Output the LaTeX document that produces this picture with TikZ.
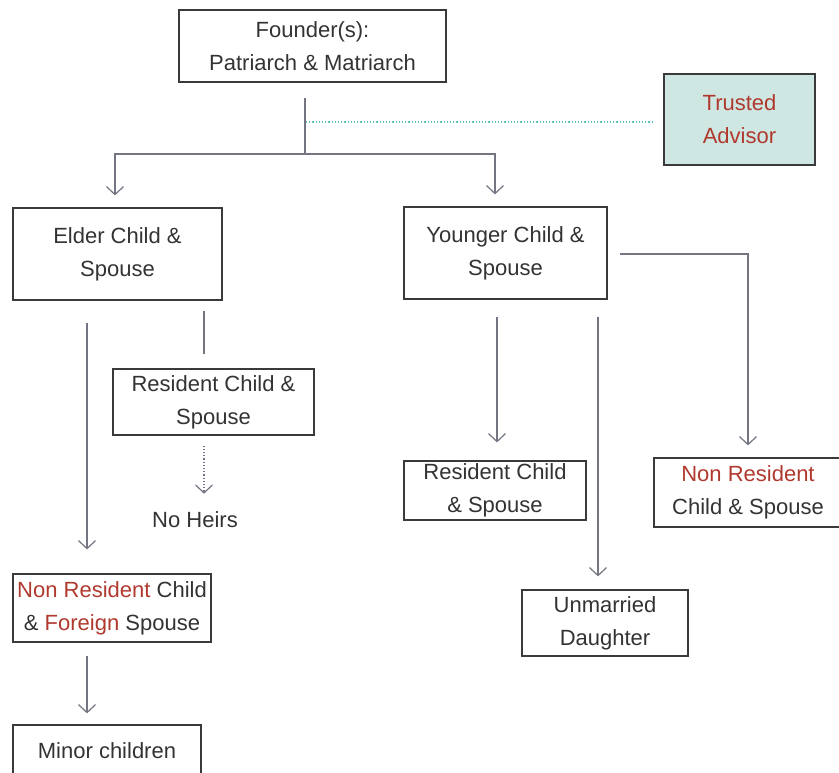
\documentclass[tikz,border=0pt]{standalone}
\usepackage{fontspec}
\setmainfont{Liberation Sans}
\usepackage{tikz}
\usetikzlibrary{arrows.meta}
\definecolor{textgray}{HTML}{333333}
\definecolor{boxgray}{HTML}{3A3A3A}
\definecolor{linkgray}{HTML}{737682}
\definecolor{resred}{HTML}{B0392E}
\definecolor{advfill}{HTML}{CFE7E3}
\definecolor{advline}{HTML}{5EC4B6}
\tikzstyle{box}=[draw=boxgray, line width=1.2pt, text=textgray, align=center, inner sep=0pt, font=\fontsize{22}{33}\selectfont]
\tikzstyle{boxteal}=[box, fill=advfill, text=resred]
\tikzstyle{plaintext}=[text=textgray, inner sep=0pt, font=\fontsize{22}{33}\selectfont]
\tikzstyle{linkline}=[draw=linkgray, line width=1.2pt]
\tikzstyle{linkarrow}=[linkline, -{Straight Barb[length=8pt, width=17pt, line width=1.2pt]}]
\tikzstyle{linkdotted}=[linkarrow, dotted]

\begin{document}
\begin{tikzpicture}[x=1pt, y=-1pt]
	\useasboundingbox (0, 0) rectangle (839, 773);
	\begin{scope}
		\node (founder) at (312.5, 46)[box, minimum width=267pt, minimum height=72pt] {Founder(s):\\Patriarch \& Matriarch};
		\node (advisor) at (739.5, 119.5)[boxteal, minimum width=151pt, minimum height=91pt] {Trusted\\Advisor};

		\node (elder) at (117.5, 254)[box, minimum width=209pt, minimum height=92pt] {Elder Child \&\\Spouse};
		\node (younger) at (505.5, 253)[box, minimum width=203pt, minimum height=92pt] {Younger Child \&\\Spouse};

		\node (resL) at (213.5, 402)[box, minimum width=201pt, minimum height=66pt] {Resident Child \&\\Spouse};
		\node (noheirs) at (195, 520)[plaintext] {No Heirs};
		\node (nonresL) at (112, 608)[box, minimum width=198pt, minimum height=68pt] {{\color{resred}Non Resident} Child\\\& {\color{resred}Foreign} Spouse};
		\node (minor) at (107, 751)[box, minimum width=188pt, minimum height=52pt] {Minor children};

		\node (resR) at (495, 490.5)[box, minimum width=182pt, minimum height=59pt] {Resident Child\\\& Spouse};
		\node (daughter) at (605, 623)[box, minimum width=166pt, minimum height=66pt] {Unmarried\\Daughter};
		\node (nonresR) at (748, 492.5)[box, minimum width=188pt, minimum height=69pt] {{\color{resred}Non Resident}\\Child \& Spouse};

		\coordinate (split) at (305, 154);
	\end{scope}
	\begin{scope}
		% founders down to the split
		\draw [linkline, shorten <=15pt] (founder.south -| split) -- (split);
		\draw [linkarrow, shorten >=12pt] (split) -| ([xshift=-2.5pt]elder.north);
		\draw [linkarrow, shorten >=12pt] (split) -| ([xshift=-10.5pt]younger.north);
		\draw [linkline, draw=advline, dotted, shorten <=1pt, shorten >=10pt] ([yshift=-2.5pt]split |- advisor.west) -- ([yshift=-2.5pt]advisor.west);

		% elder branch
		\draw [linkarrow, shorten <=22pt, shorten >=24pt] ([xshift=-30.5pt]elder.south) -- ([xshift=-25pt]nonresL.north);
		\draw [linkline, shorten <=10pt, shorten >=14pt] ([xshift=-9.5pt]resL.north |- elder.south) -- ([xshift=-9.5pt]resL.north);
		\draw [linkdotted, shorten <=10pt, shorten >=18pt] ([xshift=-9.5pt]resL.south) -- ([xshift=-9.5pt]resL.south |- noheirs.north);
		\draw [linkarrow, shorten <=13pt, shorten >=11pt] ([xshift=-25pt]nonresL.south) -- ([xshift=-20pt]minor.north);

		% younger branch
		\draw [linkarrow, shorten <=17pt, shorten >=18pt] ([xshift=-8.5pt]younger.south) -- ([xshift=2pt]resR.north);
		\draw [linkarrow, shorten <=17pt, shorten >=13pt] ([xshift=92.5pt]younger.south) -- ([xshift=-7pt]daughter.north);
		\draw [linkarrow, shorten <=12pt, shorten >=12pt] ([yshift=-1pt]younger.east) -| (nonresR.north);
	\end{scope}
\end{tikzpicture}
\end{document}
